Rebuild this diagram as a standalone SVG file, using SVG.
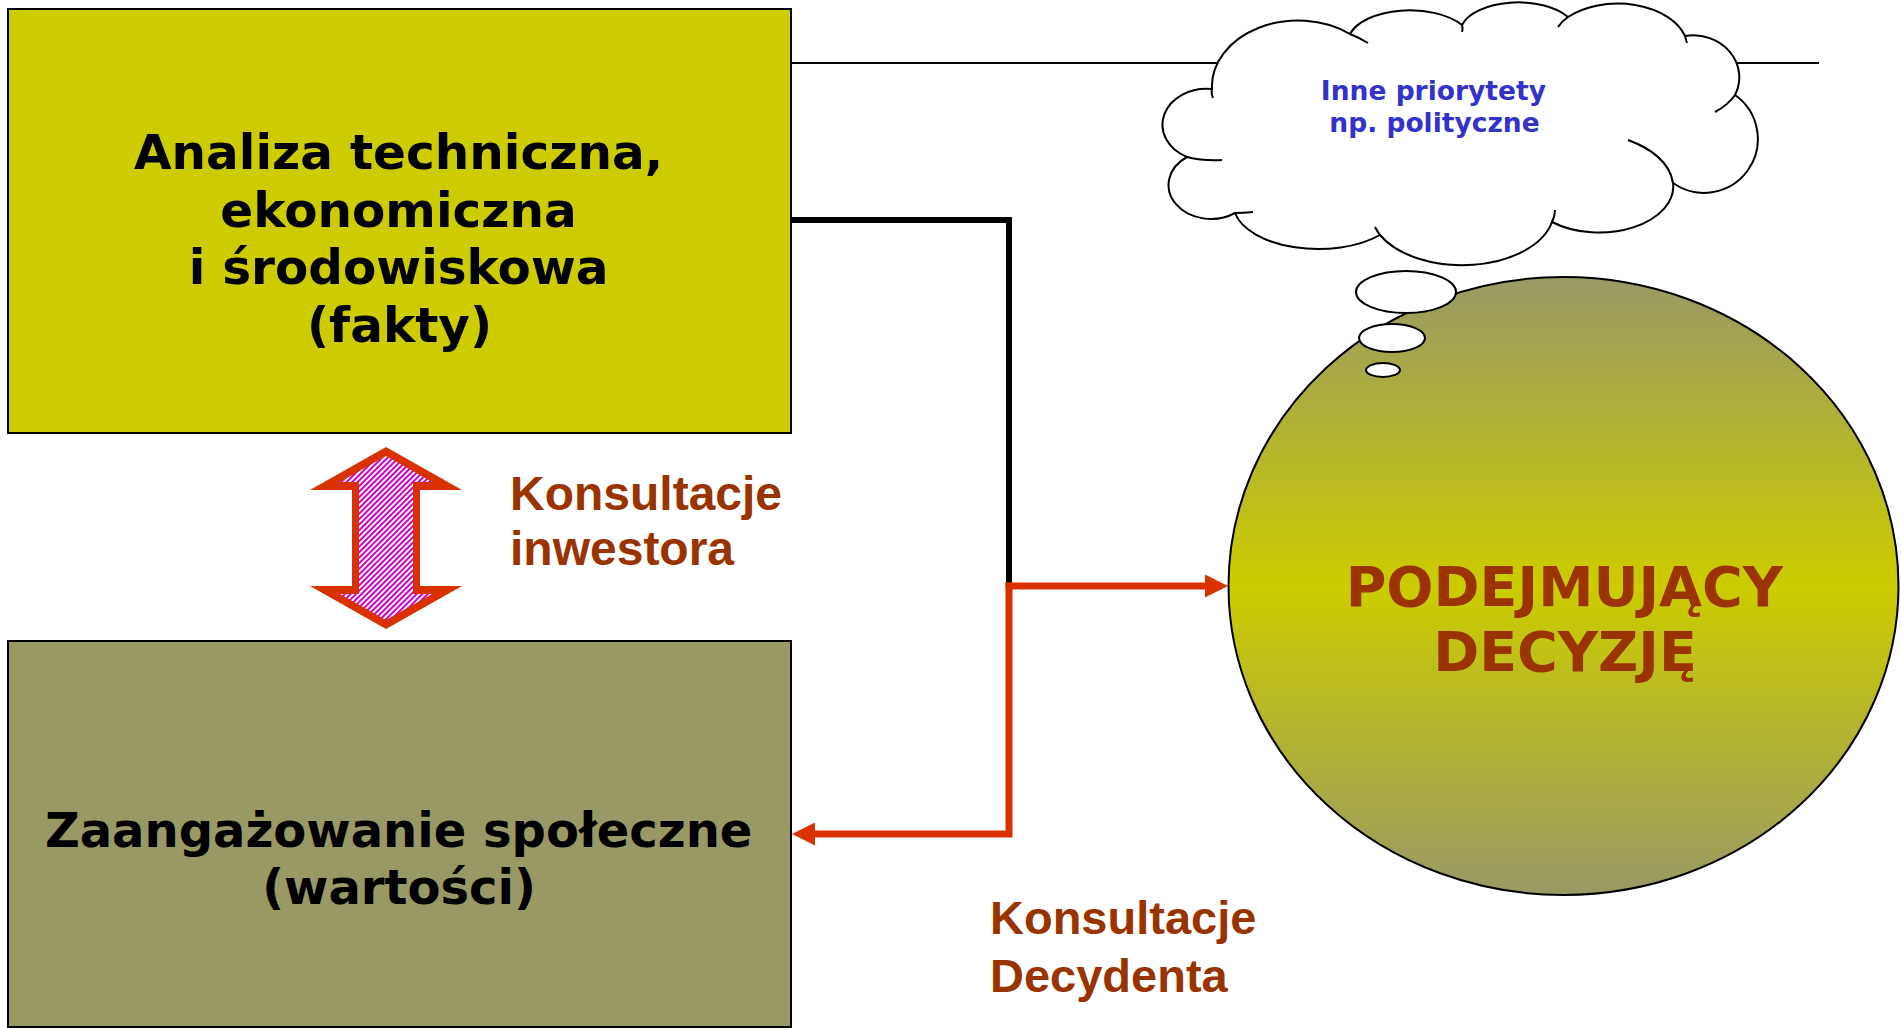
<svg xmlns="http://www.w3.org/2000/svg" width="1901" height="1028" viewBox="0 0 1901 1028">
  <style>
    .box { stroke: #000; stroke-width: 2; }
    .vt { font-family: "DejaVu Sans", Verdana, sans-serif; font-weight: bold; text-anchor: middle; }
    .lbl { font-family: "Liberation Sans", Arial, sans-serif; font-weight: bold; fill: #993300; }
    .thin { fill: none; stroke: #000; stroke-width: 2; }
    .bubble { fill: #fff; stroke: #000; stroke-width: 2; }
    .red { fill: none; stroke: #D93100; stroke-width: 7; }
  </style>
  <defs>
    <linearGradient id="gCircle" x1="0" y1="0" x2="0" y2="1">
      <stop offset="0" stop-color="#999966"/>
      <stop offset="0.5" stop-color="#CCCC00"/>
      <stop offset="1" stop-color="#999966"/>
    </linearGradient>
    <pattern id="stripes" patternUnits="userSpaceOnUse" width="3.9" height="3.9" patternTransform="rotate(45)">
      <rect width="3.9" height="3.9" fill="#ffffff"/>
      <rect width="2" height="3.9" fill="#CC00CC"/>
    </pattern>
    <marker id="ah" markerUnits="userSpaceOnUse" markerWidth="23" markerHeight="23" refX="5" refY="11.5" orient="auto">
      <path d="M0,0 L23,11.5 L0,23 Z" fill="#D93100"/>
    </marker>
  </defs>

  <rect width="1901" height="1028" fill="#fff"/>

  <!-- thin line behind the cloud -->
  <g id="cloud-line">
    <line x1="791" y1="63" x2="1819" y2="63" stroke="#000" stroke-width="2"/>
  </g>

  <g id="node-analiza">
    <rect class="box" x="8" y="9" width="783" height="424" fill="#CCCC00"/>
    <text class="vt" font-size="48.5" fill="#000">
      <tspan x="407" y="169">Analiza techniczna,</tspan>
      <tspan x="407" y="226.5">ekonomiczna</tspan>
      <tspan x="407" y="284">i środowiskowa</tspan>
      <tspan x="399.5" y="341.5">(fakty)</tspan>
    </text>
  </g>

  <g id="node-zaangazowanie">
    <rect class="box" x="8" y="641" width="783" height="386" fill="#999966"/>
    <text class="vt" font-size="48" fill="#000">
      <tspan x="407" y="847">Zaangażowanie społeczne</tspan>
      <tspan x="399" y="904">(wartości)</tspan>
    </text>
  </g>

  <g id="node-decydent">
    <ellipse cx="1563.5" cy="586" rx="335" ry="309" fill="url(#gCircle)" stroke="#000" stroke-width="2"/>
    <text class="vt" font-size="55.5" fill="#993300">
      <tspan x="1574" y="606">PODEJMUJĄCY</tspan>
      <tspan x="1565" y="671">DECYZJĘ</tspan>
    </text>
  </g>

  <g id="node-cloud">
    <path class="bubble" d="M1212,89 A86,66 0 0 1 1350,34 A62,32 0 0 1 1462,25 A58,30 0 0 1 1568,17 A70,45 0 0 1 1685,36 A46,42 0 0 1 1735,95 A52,52 0 0 1 1673,183 A74,46 0 0 1 1552,222 A92,55 0 0 1 1380,235 A85,45 0 0 1 1235,213 A40,32 0 0 1 1187,157 A44,36 0 0 1 1212,89 Z"/>
    <path class="thin" d="M1212,89 Q1211,94 1213,98 M1187,157 Q1203,161 1222,160 M1235,213 Q1244,213 1253,212 M1375,227 Q1377,231 1380,235 M1552,222 Q1555,216 1555,210 M1628,140 C1650,148 1670,162 1673,183 M1735,95 Q1728,105 1715,112 M1685,36 Q1686,40 1687,43 M1558,27 Q1562,21 1568,17 M1462,25 Q1463,29 1462,32 M1350,34 Q1360,38 1368,43"/>
    <text class="vt" font-size="26.5" fill="#3333CC">
      <tspan x="1438" y="100">Inne priorytety</tspan>
      <tspan x="1434.5" y="132">np. polityczne</tspan>
    </text>
    <ellipse class="bubble" cx="1406" cy="292" rx="50" ry="21"/>
    <ellipse class="bubble" cx="1392" cy="338" rx="33" ry="14"/>
    <ellipse class="bubble" cx="1383" cy="370" rx="17" ry="7"/>
  </g>

  <g id="node-double-arrow">
    <polygon points="386,447 462,490 420,490 420,586 462,586 386,629 310,586 352,586 352,490 310,490" fill="#D93100"/>
    <polygon points="386,456 432,482 413,482 413,594 432,594 386,620 340,594 359,594 359,482 340,482" fill="url(#stripes)"/>
  </g>

  <g id="connectors">
    <path d="M791,220 H1009 V583" fill="none" stroke="#000" stroke-width="6"/>
    <path class="red" d="M1005.5,586 H1210" marker-end="url(#ah)"/>
    <path class="red" d="M1009,582.5 V834 H810" marker-end="url(#ah)"/>
  </g>

  <g id="labels">
    <text class="lbl" font-size="48">
      <tspan x="510" y="510">Konsultacje</tspan>
      <tspan x="510" y="565">inwestora</tspan>
    </text>
    <text class="lbl" font-size="47">
      <tspan x="990" y="934">Konsultacje</tspan>
      <tspan x="990" y="992">Decydenta</tspan>
    </text>
  </g>
</svg>
